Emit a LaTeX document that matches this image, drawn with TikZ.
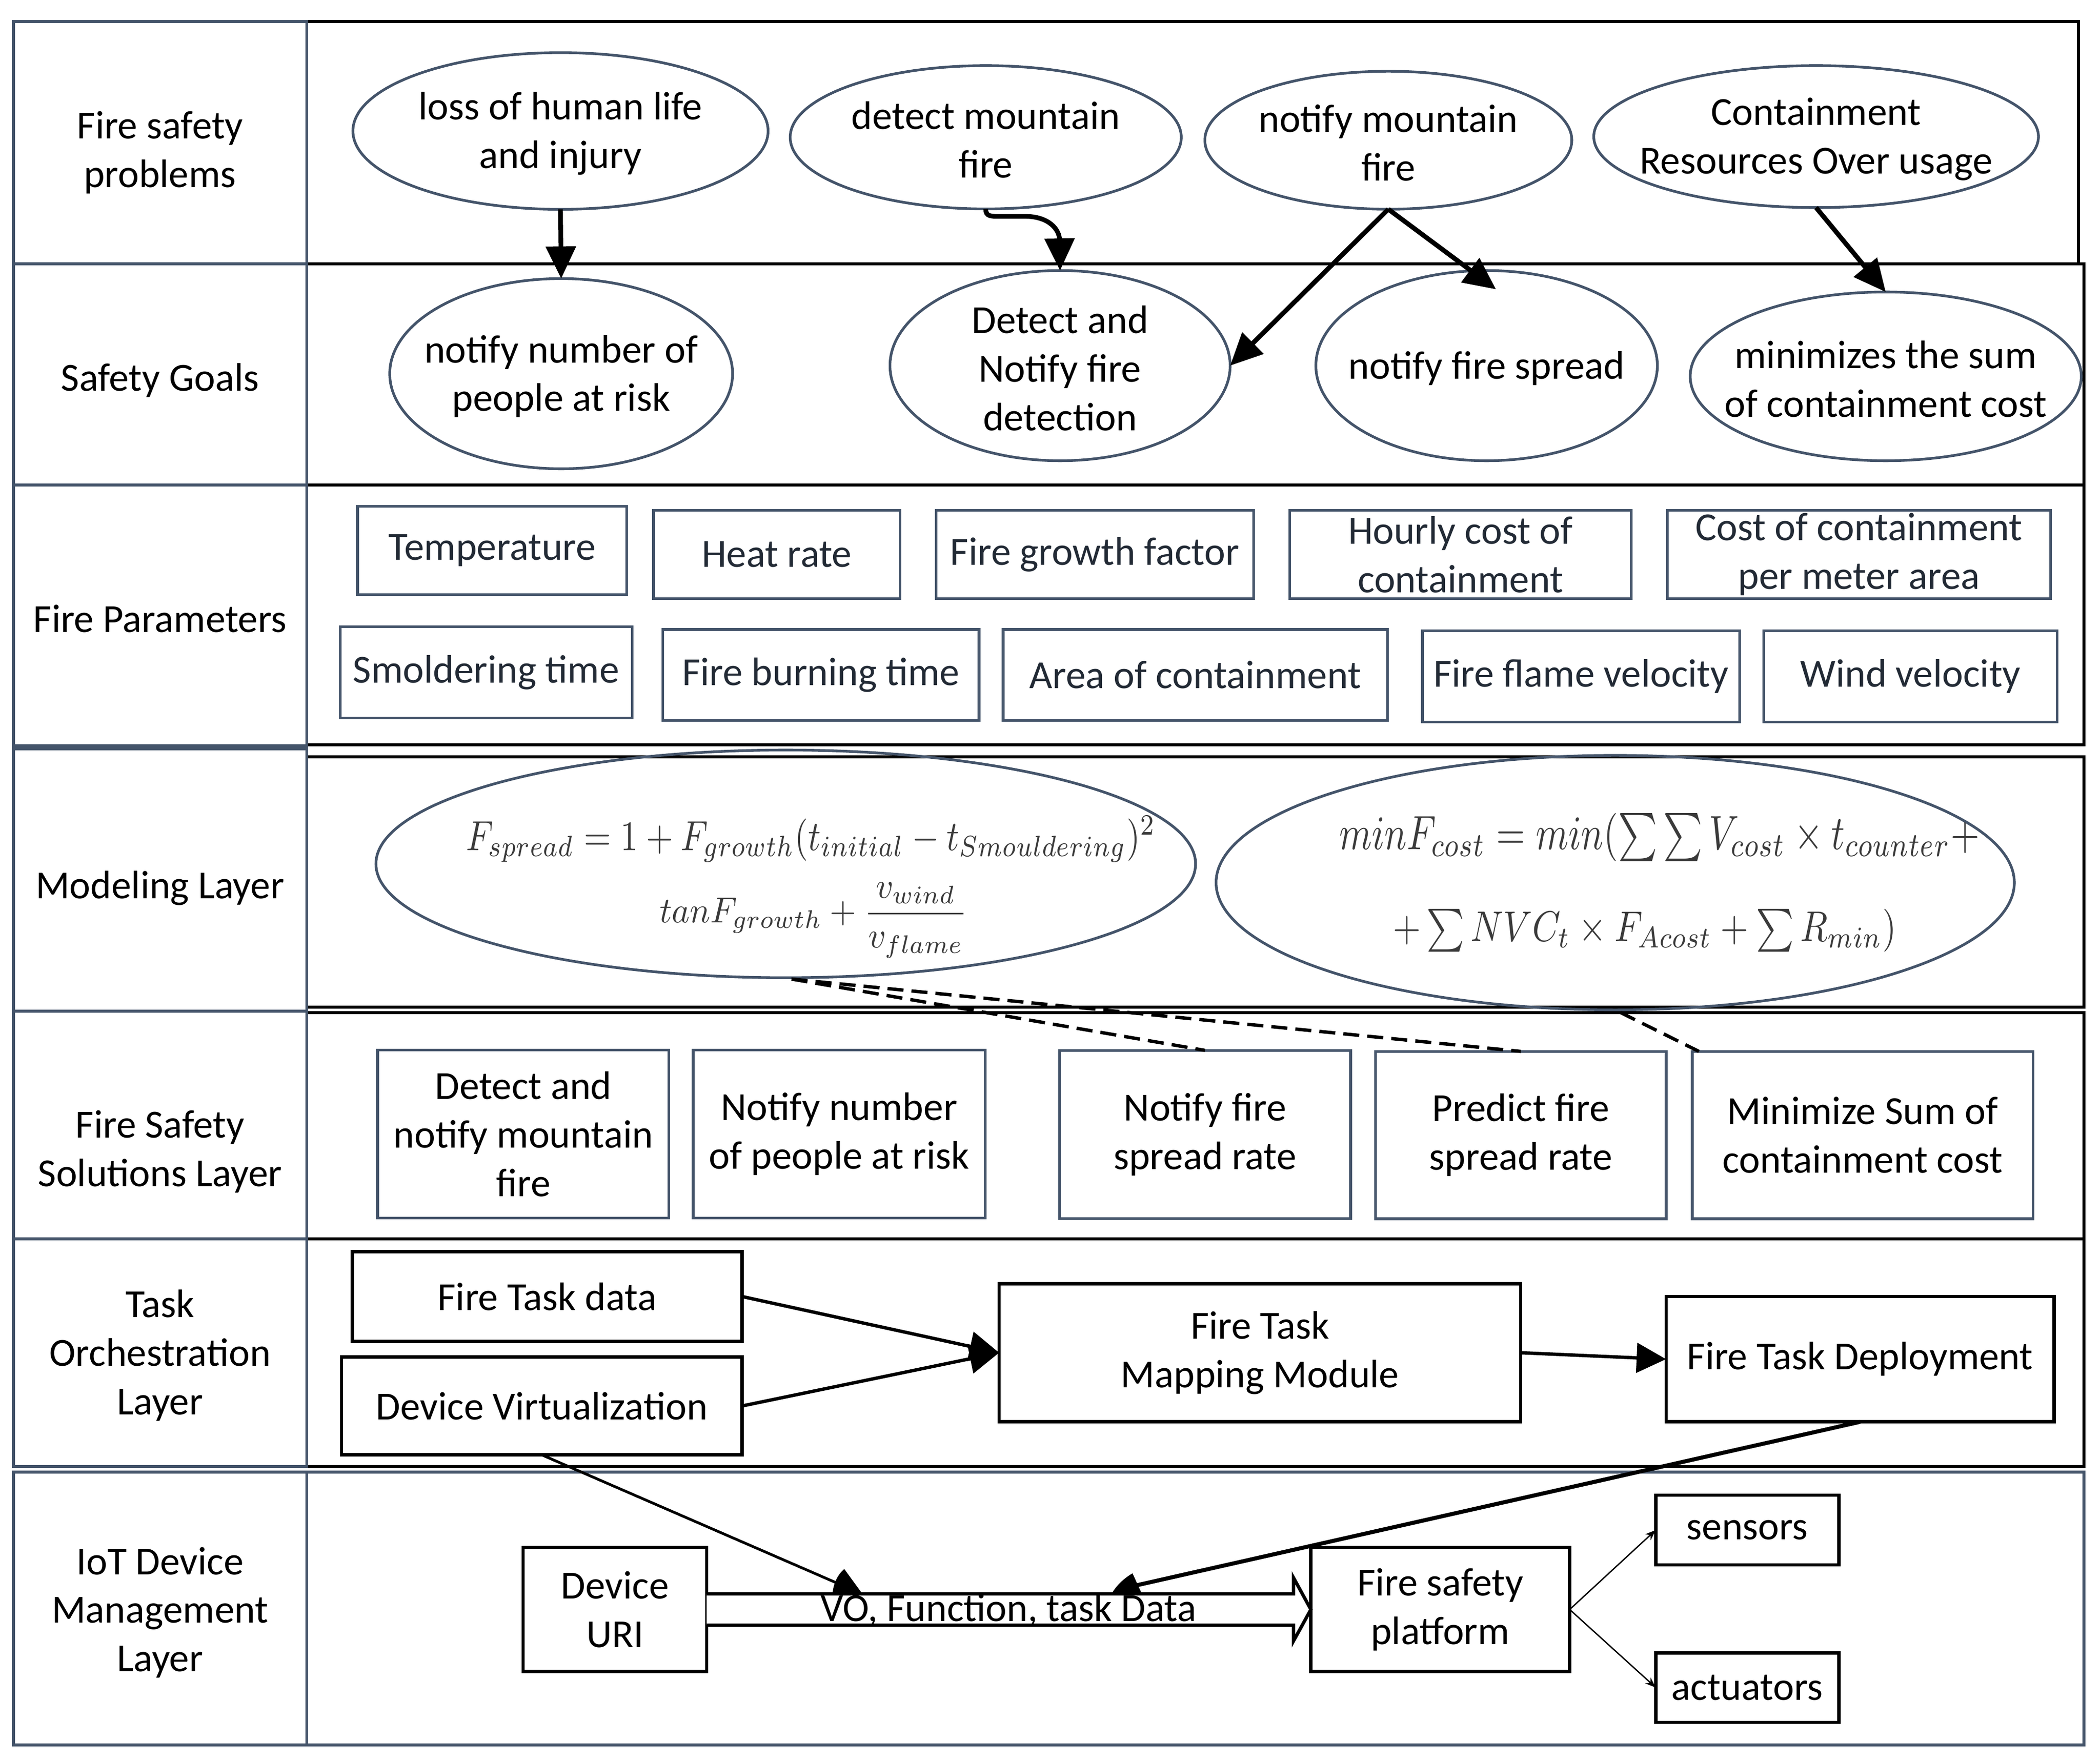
\documentclass[tikz,border=0pt]{standalone}
\usepackage{fontspec}
\setmainfont{Carlito}
\usepackage{graphicx}
\usetikzlibrary{arrows.meta,shapes.geometric,calc}
\definecolor{slate}{HTML}{44546A}
\definecolor{slatetext}{HTML}{222A35}
\definecolor{mathgray}{HTML}{3A3A3A}
\begin{document}
\begin{tikzpicture}[x=1pt,y=-1pt,
  txt/.style={font=\fontsize{29.7}{36.3}\selectfont, inner sep=0pt, outer sep=0pt, align=center},
  lbl/.style={txt, yshift=-2pt},
  etx/.style={txt, yshift=-2pt},
  ell/.style={draw=slate, line width=2pt, ellipse, inner sep=0pt, outer sep=0pt},
  prm/.style={txt, draw=slate, line width=2pt, text=slatetext},
  sol/.style={txt, draw=slate, line width=2pt},
  blk/.style={txt, draw=black, line width=2.5pt},
  lcell/.style={draw=slate, line width=2.2pt},
  rcell/.style={draw=black, line width=2.2pt},
  bigarr/.style={line width=3.5pt, -{Triangle[length=24pt,width=22pt]}},
  midarr/.style={line width=2.5pt, -{Triangle[length=22pt,width=22pt]}},
  thinarr/.style={line width=1pt, -{Stealth[length=8pt,width=6pt]}},
  dashline/.style={line width=2.5pt, dash pattern=on 12pt off 6pt},
  mth/.style={inner sep=0pt, outer sep=0pt, text=mathgray},
]
\useasboundingbox (0,0) rectangle (1568,1314.8);

% ---------- lane frames ----------
\draw[rcell] (229,16) rectangle (1552,197);
\draw[rcell] (229,197) rectangle (1556,362);
\draw[rcell] (229,362) rectangle (1556,556);
\draw[rcell] (229,565) rectangle (1556,752);
\draw[rcell] (229,756) rectangle (1556,925);
\draw[rcell] (229,925) rectangle (1556,1095);
\draw[lcell] (229,1099) rectangle (1556,1303);

\draw[lcell] (10,16) rectangle (229,197);
\draw[lcell] (10,197) rectangle (229,362);
\draw[lcell] (10,362) rectangle (229,557);
\draw[lcell] (10,559) rectangle (229,755);
\draw[lcell] (10,755) rectangle (229,925);
\draw[lcell] (10,925) rectangle (229,1095);
\draw[lcell] (10,1099) rectangle (229,1303);

% ---------- lane labels ----------
\node[lbl] (L1) at (119.5,112) {Fire safety\\problems};
\node[lbl] (L2) at (119.5,282) {Safety Goals};
\node[lbl] (L3) at (119.5,460) {Fire Parameters};
\node[lbl] (L4) at (119.5,661) {Modeling Layer};
\node[lbl] (L5) at (119.5,858) {Fire Safety\\Solutions Layer};
\node[lbl] (L6) at (119.5,1010) {Task\\Orchestration\\Layer};
\node[lbl] (L7) at (119.5,1202) {IoT Device\\Management\\Layer};

% ---------- fire safety problems ----------
\node[ell, minimum width=310pt, minimum height=117pt] (E1) at (418.5,97.8) {};
\node[etx] (E1t) at (E1) {loss of human life\\and injury};
\node[ell, minimum width=292pt, minimum height=107pt] (E2) at (736,102.5) {};
\node[etx] (E2t) at (E2) {detect mountain\\fire};
\node[ell, minimum width=274pt, minimum height=103pt] (E3) at (1036.6,104.7) {};
\node[etx] (E3t) at (E3) {notify mountain\\fire};
\node[ell, minimum width=332pt, minimum height=106pt] (E4) at (1356,102) {};
\node[etx] (E4t) at (E4) {Containment\\Resources Over usage};

% ---------- safety goals ----------
\node[ell, minimum width=256pt, minimum height=142pt] (G1) at (419,279) {};
\node[etx] (G1t) at (G1) {notify number of\\people at risk};
\node[ell, minimum width=254pt, minimum height=142pt] (G2) at (791.5,273) {};
\node[etx] (G2t) at (G2) {Detect and\\Notify fire\\detection};
\node[ell, minimum width=255pt, minimum height=142pt] (G3) at (1110,273) {};
\node[etx] (G3t) at (G3) {notify fire spread};
\node[ell, minimum width=292pt, minimum height=126pt] (G4) at (1408,281) {};
\node[etx] (G4t) at (G4) {minimizes the sum\\of containment cost};

% ---------- arrows problems -> goals ----------
\draw[bigarr] (E1.south) -- (G1.north);
\draw[bigarr] (E2.south) .. controls (736,162) and (740,161.5) .. (748,161.5)
   -- (765,161.5) .. controls (784,161.5) and (791,172) .. (G2.north);
\draw[bigarr] (E3.south) -- (G2.east);
\coordinate (A4end) at (1117,216);
\draw[bigarr] (E3.south) -- (A4end);
\draw[bigarr] (E4.south) -- (G4.north);

% ---------- fire parameters ----------
\node[prm, minimum width=201pt, minimum height=66pt] (T1) at (367.5,411) {Temperature};
\node[prm, minimum width=184pt, minimum height=66pt] (T2) at (580,414) {Heat rate};
\node[prm, minimum width=237pt, minimum height=66pt] (T3) at (817.5,414) {Fire growth factor};
\node[prm, minimum width=255pt, minimum height=66pt] (T4) at (1090.5,414) {Hourly cost of\\containment};
\node[prm, minimum width=286pt, minimum height=66pt] (T5) at (1388,414) {Cost of containment\\per meter area};
\node[prm, minimum width=218pt, minimum height=68pt] (B1) at (363,502) {Smoldering time};
\node[prm, minimum width=236pt, minimum height=68pt] (B2) at (613,504) {Fire burning time};
\node[prm, minimum width=287pt, minimum height=68pt] (B3) at (892.5,504) {Area of containment};
\node[prm, minimum width=237pt, minimum height=68pt] (B4) at (1180.5,505) {Fire flame velocity};
\node[prm, minimum width=219pt, minimum height=68pt] (B5) at (1426.5,505) {Wind velocity};

% ---------- modeling layer ----------
\node[ell, minimum width=612pt, minimum height=170pt] (M1) at (586.7,645) {};
\node[mth, anchor=base west] (M1a) at (348,634.8)
  {\resizebox{515pt}{25.6pt}{$F_{spread}=1+F_{growth}(t_{initial}-t_{Smouldering})^{2}$}};
\node[mth, anchor=base west] (M1b) at (492.5,689)
  {\resizebox{230pt}{30pt}{$\displaystyle tanF_{growth}+\frac{v_{wind}}{v_{flame}}$}};
\node[ell, minimum width=596pt, minimum height=190pt] (M2) at (1206,659) {};
\begin{scope}
  \clip (1206,659) ellipse [x radius=297, y radius=94];
  \node[mth, anchor=base west] (M2a) at (1000,634.2)
    {\resizebox{478pt}{27pt}{$minF_{cost}=min(\sum\sum V_{cost}\times t_{counter}+$}};
\end{scope}
\node[mth, anchor=base west] (M2b) at (1040,702.8)
  {\resizebox{376pt}{24pt}{$+\sum NVC_{t}\times F_{Acost}+\sum R_{min})$}};

% ---------- solutions ----------
\node[sol, minimum width=217.5pt, minimum height=125.5pt] (S1) at (390.75,846.75) {Detect and\\notify mountain\\fire};
\node[sol, minimum width=218pt, minimum height=125.5pt] (S2) at (626.6,846.75) {Notify number\\of people at risk};
\node[sol, minimum width=217.5pt, minimum height=125.5pt] (S3) at (899.75,847) {Notify fire\\spread rate};
\node[sol, minimum width=217pt, minimum height=125pt] (S4) at (1135.5,847.5) {Predict fire\\spread rate};
\node[sol, minimum width=254.5pt, minimum height=125pt] (S5) at (1390.75,847.5) {Minimize Sum of\\containment cost};

\coordinate (D0) at (591,731);
\draw[dashline] (D0) -- (S3.north);
\draw[dashline] (D0) -- (S4.north);
\draw[dashline] ($(M2.south)+(4,2)$) -- ($(S5.north west)+(5,0)$);

% ---------- task orchestration ----------
\node[blk, minimum width=291pt, minimum height=67pt] (FT) at (408.5,968) {Fire Task data};
\node[blk, minimum width=299pt, minimum height=73pt] (DV) at (404.5,1049.75) {Device Virtualization};
\node[blk, minimum width=389.5pt, minimum height=103.2pt] (MM) at (940.75,1010) {Fire Task\\Mapping Module};
\node[blk, minimum width=289.6pt, minimum height=93.6pt] (DP) at (1388.8,1014.8) {Fire Task Deployment};

\draw[midarr] (FT.east) -- (MM.west);
\draw[midarr] (DV.east) -- (MM.west);
\draw[midarr] (MM.east) -- (DP.west);

% ---------- IoT device management ----------
\node[blk, minimum width=137pt, minimum height=92.8pt] (URI) at (459.15,1201.7) {Device\\URI};
\node[blk, minimum width=193.2pt, minimum height=92.8pt] (FSP) at (1075.4,1201.7) {Fire safety\\platform};
\node[blk, minimum width=136.7pt, minimum height=52pt] (SEN) at (1304.65,1142.35) {sensors};
\node[blk, minimum width=136.7pt, minimum height=52pt] (ACT) at (1304.65,1260) {actuators};

\draw[line width=2.5pt, fill=white, line join=miter]
  ($(URI.east)+(0,-11.7)$) -- ($(FSP.west)+(-13,-11.7)$) -- ($(FSP.west)+(-13,-23.7)$)
  -- (FSP.west) -- ($(FSP.west)+(-13,23.5)$) -- ($(FSP.west)+(-13,11.7)$) -- ($(URI.east)+(0,11.7)$);
\node[txt, anchor=base] (VOt) at (753,1210.5) {VO, Function, task Data};

\coordinate (V1) at (625,1182);
\draw[line width=2pt] (DV.south) -- (V1);
\fill (621.5,1191) .. controls (622,1182) and (626,1175) .. (630.4,1171.5) -- (644.6,1191) -- cycle;

\coordinate (V2) at (847,1184);
\draw[line width=3pt] (DP.south) -- (V2);
\fill (830,1190) .. controls (834,1183) and (840,1178) .. (845.6,1174.7) -- (853,1191) -- cycle;

\draw[thinarr] (FSP.east) -- (SEN.west);
\draw[thinarr] (FSP.east) -- (ACT.west);
\end{tikzpicture}
\end{document}
